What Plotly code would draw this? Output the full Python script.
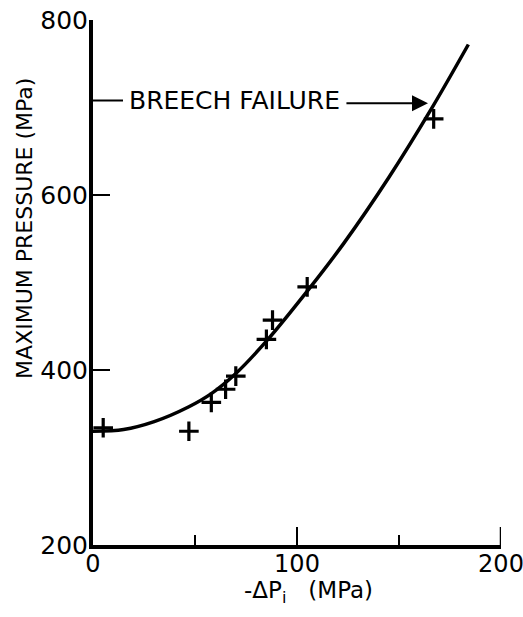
import plotly.graph_objects as go

# Measured shots: pressure drop vs. peak chamber pressure
dp_shots = [5, 47, 58, 65, 70, 85, 88, 105, 167]
pmax_shots = [334, 330, 363, 378, 393, 435, 457, 495, 687]

# Fitted trend curve, read point by point
dp_curve = [0, 15, 30, 47, 58, 70, 85, 106, 123, 145, 166, 184]
pmax_curve = [330, 332, 341, 358, 373, 396, 433, 493, 545, 620, 699, 772]

x_ticks = [0, 100, 200]
y_ticks = [200, 400, 600, 800]

# Breech failure marker: label level and arrow tail/tip on the curve
failure_label_y = 708
failure_arrow_y = 705
failure_arrow_tail = 123.5
failure_arrow_tip = 164.2

FONT = "DejaVu Sans"
INK = "black"

fig = go.Figure()

fig.add_trace(go.Scatter(
    x=dp_curve, y=pmax_curve, mode="lines",
    line=dict(color=INK, width=3.5, shape="spline", smoothing=0.9),
    hoverinfo="skip", showlegend=False,
))

fig.add_trace(go.Scatter(
    x=dp_shots, y=pmax_shots, mode="markers",
    marker=dict(symbol="cross-thin", size=14, color=INK,
                line=dict(color=INK, width=3.2)),
    cliponaxis=False, showlegend=False,
))

# short lead-in dash from the axis to the label
fig.add_shape(type="line", x0=0, x1=14.7, y0=failure_label_y, y1=failure_label_y,
              line=dict(color=INK, width=2), layer="above")

# end tick at the right end of the x axis (edge ticks are not drawn by the axis)
fig.add_shape(type="line", xref="x", yref="y", x0=x_ticks[-1], x1=x_ticks[-1],
              ysizemode="pixel", yanchor=y_ticks[0], y0=0, y1=18,
              line=dict(color=INK, width=2.5), layer="above")

fig.add_annotation(
    x=16.7, y=failure_label_y, text="BREECH FAILURE", showarrow=False,
    xanchor="left", yanchor="middle",
    font=dict(family=FONT, size=25, color=INK),
)

fig.add_annotation(
    x=failure_arrow_tip, y=failure_arrow_y, ax=failure_arrow_tail, ay=failure_arrow_y,
    axref="x", ayref="y", text="", showarrow=True,
    arrowhead=2, arrowsize=1.6, arrowwidth=2, arrowcolor=INK,
)

# axis titles
fig.add_annotation(
    xref="paper", yref="paper", x=-0.1667, y=0.604,
    text="MAXIMUM PRESSURE (MPa)", textangle=-90, showarrow=False,
    xanchor="center", yanchor="middle",
    font=dict(family=FONT, size=22, color=INK),
)
fig.add_annotation(
    xref="paper", yref="paper", x=0.527, y=-0.089,
    text="-\u0394P<sub>i</sub>\u00a0\u00a0\u00a0(MPa)", showarrow=False,
    xanchor="center", yanchor="middle",
    font=dict(family=FONT, size=23, color=INK),
)

fig.update_xaxes(
    range=[0, 200], tickvals=x_ticks, ticktext=[str(v) for v in x_ticks],
    ticks="inside", ticklen=18, tickwidth=2, tickcolor=INK,
    minor=dict(dtick=50, ticks="inside", ticklen=10, tickwidth=2, tickcolor=INK),
    showline=True, linewidth=4, linecolor=INK, mirror=False,
    showgrid=False, zeroline=False, automargin=False,
    ticklabeloverflow="allow", ticklabelstandoff=-6,
    tickfont=dict(family=FONT, size=24, color=INK),
)
fig.update_yaxes(
    range=[200, 800], tickvals=y_ticks, ticktext=[str(v) for v in y_ticks],
    ticks="inside", ticklen=17, tickwidth=2, tickcolor=INK,
    showline=True, linewidth=4, linecolor=INK, mirror=False,
    showgrid=False, zeroline=False, automargin=False,
    ticklabeloverflow="allow", ticklabelstandoff=-4,
    tickfont=dict(family=FONT, size=25, color=INK),
)

fig.update_layout(
    width=523, height=617,
    margin=dict(l=93, r=22, t=20, b=72),
    paper_bgcolor="white", plot_bgcolor="white",
    font=dict(family=FONT, color=INK),
)

fig.write_html("out.html")
